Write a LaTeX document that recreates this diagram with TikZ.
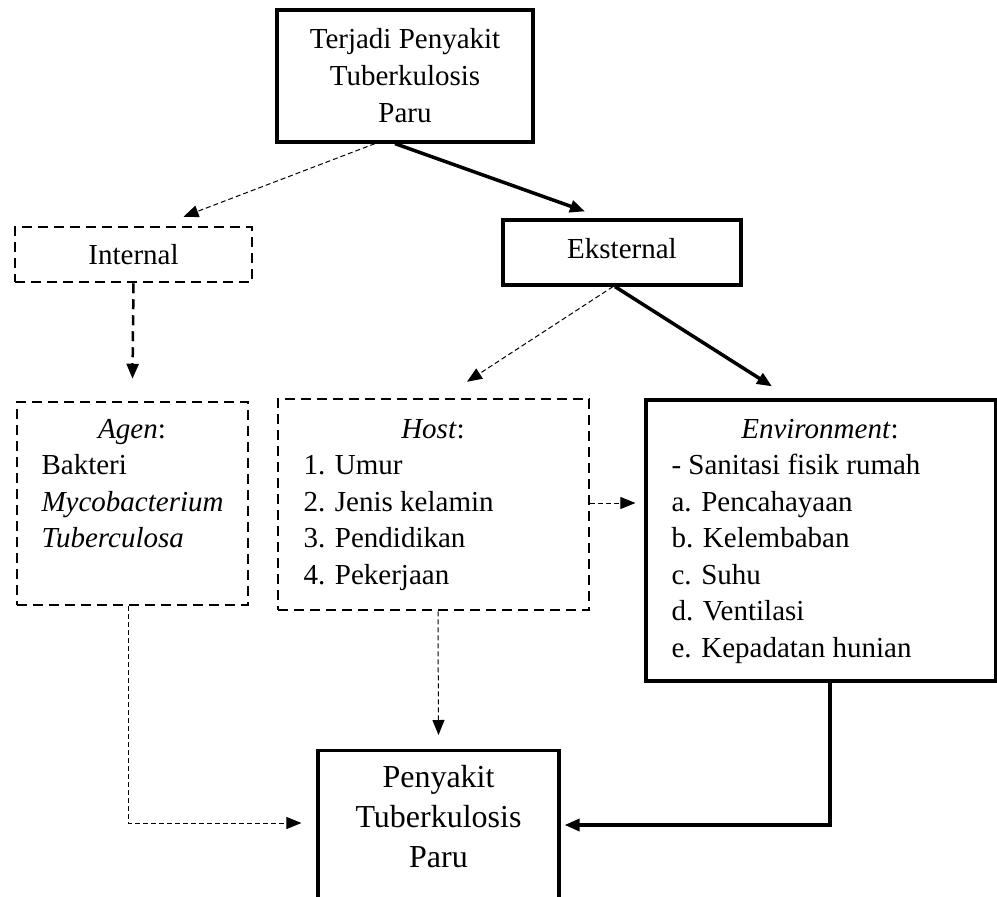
\documentclass[tikz,border=0pt]{standalone}
\usepackage{fontspec}
\setmainfont{Liberation Serif}
\usepackage{tikz}
\usetikzlibrary{arrows.meta}
\tikzset{>={Triangle[length=15pt,width=12pt]}}
\tikzset{solidbox/.style={draw,line width=3.2pt,inner sep=0pt}}
\tikzset{dashbox/.style={draw,line width=2.5pt,dash pattern=on 10pt off 6pt,inner sep=0pt}}
\tikzset{thickline/.style={->,line width=3.5pt}}
\tikzset{thinline/.style={->,line width=1pt,dash pattern=on 5pt off 3pt}}
\tikzset{dashline/.style={->,line width=2.5pt,dash pattern=on 10pt off 6pt}}
\newcommand{\diagfont}{\fontsize{29}{37}\selectfont}

\begin{document}
\begin{tikzpicture}[x=1pt,y=-1pt,font=\diagfont]
		\clip (0,0) rectangle (997,897);
		\begin{scope}
			%top box
			\node[solidbox,minimum width=256pt,minimum height=132pt,align=center] (terjadi) at (405,76) {Terjadi Penyakit\\Tuberkulosis\\Paru};
			%internal and eksternal
			\node[dashbox,minimum width=237pt,minimum height=55pt] (internal) at (133.5,254.5) {Internal};
			\node[solidbox,minimum width=238pt,minimum height=65pt,text depth=8pt] (eksternal) at (622,252.5) {Eksternal};
			%agen, host, environment
			\node[dashbox,minimum width=231pt,minimum height=203pt] (agen) at (132.5,503.5) {};
			\node[dashbox,minimum width=311pt,minimum height=211pt] (host) at (433.5,504.5) {};
			\node[solidbox,minimum width=350pt,minimum height=281pt] (env) at (821,540.5) {};
			%bottom box
			\node[solidbox,minimum width=241pt,minimum height=200pt,anchor=north] (penyakitbox) at (438.5,749) {};
			\node[align=center,font=\fontsize{32}{40}\selectfont] (penyakit) at (438.5,817) {Penyakit\\Tuberkulosis\\Paru};
		\end{scope}
		\begin{scope}
			%agen text
			\node[anchor=base] (agenhead) at (132,438) {\textit{Agen}:};
			\foreach \txt [count=\i] in {Bakteri,\textit{Mycobacterium},\textit{Tuberculosa}}
				\node[anchor=base west] (agen\i) at (38,438+36.5*\i) {\txt};
			%host text
			\node[anchor=base] (hosthead) at (433,438) {\textit{Host}:};
			\foreach \txt [count=\i] in {1. Umur,2. Jenis kelamin,3. Pendidikan,4. Pekerjaan}
				\node[anchor=base west] (host\i) at (300,438+36.5*\i) {\txt};
			%environment text
			\node[anchor=base] (envhead) at (820,438) {\textit{Environment}:};
			\foreach \txt [count=\i] in {- Sanitasi fisik rumah,a. Pencahayaan,b. Kelembaban,c. Suhu,d. Ventilasi,e. Kepadatan hunian}
				\node[anchor=base west] (env\i) at (668,438+36.5*\i) {\txt};
		\end{scope}
		\begin{scope}
			%from top
			\draw[thinline] ([xshift=-30pt]terjadi.south) -- ([xshift=50pt,yshift=9pt]internal.north);
			\draw[thickline] ([xshift=-10pt]terjadi.south) -- ([xshift=-37pt,yshift=7pt]eksternal.north);
			%from internal and eksternal
			\draw[dashline] (internal.south) -- ([yshift=22pt]agen.north);
			\draw[thinline] ([xshift=-9pt]eksternal.south) -- ([xshift=33.5pt,yshift=16pt]host.north);
			\draw[thickline] ([xshift=-7pt]eksternal.south) -- ([xshift=-49pt,yshift=12pt]env.north);
			%host to environment
			\draw[thinline] ([yshift=1.5pt]host.east) -- ([xshift=-9pt,yshift=1.5pt]env.west |- host.east);
			%to bottom box
			\draw[thinline] ([xshift=4.5pt]host.south) -- ([yshift=14pt]penyakitbox.north);
			\draw[thinline] ([xshift=-4.5pt]agen.south) |- ([xshift=-15pt,yshift=-74pt]penyakitbox.north west);
			\draw[thickline] ([xshift=9pt]env.south) |- ([xshift=4pt,yshift=-76pt]penyakitbox.north east);
		\end{scope}
		%
	\end{tikzpicture}
\end{document}
